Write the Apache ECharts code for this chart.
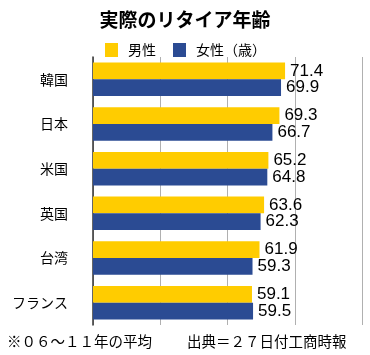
<!DOCTYPE html>
<html><head><meta charset="utf-8">
<script src="https://cdn.jsdelivr.net/npm/echarts@6/dist/echarts.min.js"></script>
<style>html,body{margin:0;padding:0;background:#fff}#c{width:370px;height:355px}</style>
</head><body><div id="c"></div>
<script>
const categories = ['韓国','日本','米国','英国','台湾','フランス'];
const male = [71.4, 69.3, 65.2, 63.6, 61.9, 59.1];
const female = [69.9, 66.7, 64.8, 62.3, 59.3, 59.5];
const seriesNames = ['男性','女性（歳）'];
const xTicks = {min:0, max:100, interval:25};

const jp = '"Noto Sans CJK JP", sans-serif';
const num = '"Liberation Sans", Arial, sans-serif';
const chart = echarts.init(document.getElementById('c'));
chart.setOption({
  animation:false,
  backgroundColor:'#fff',
  title:{text:'実際のリタイア年齢', left:'center', top:5,
    textStyle:{fontFamily:jp, fontSize:19, fontWeight:'bold', color:'#000'}},
  legend:{data:seriesNames, left:100, top:38, icon:'rect', itemWidth:13, itemHeight:14, itemGap:17,
    textStyle:{fontFamily:jp, fontSize:14, color:'#000', padding:[0,0,0,5]}},
  grid:{left:93, right:8, top:57, bottom:30},
  xAxis:{type:'value', min:xTicks.min, max:xTicks.max, interval:xTicks.interval,
    axisLabel:{show:false}, axisLine:{show:false}, axisTick:{show:false},
    splitLine:{lineStyle:{color:'#b0b0b0', width:1}}},
  yAxis:{type:'category', data:categories, inverse:true,
    axisLine:{lineStyle:{color:'#333', width:1.5}}, axisTick:{show:false},
    axisLabel:{fontFamily:jp, fontSize:14, color:'#000', margin:25}},
  series:[
    {name:seriesNames[0], type:'bar', data:male, barCategoryGap:'25%', barGap:'0%',
      itemStyle:{color:'#FFCC00'},
      label:{show:true, position:'right', distance:5, fontFamily:num, fontSize:17, color:'#000', formatter:p=>p.value.toFixed(1)}},
    {name:seriesNames[1], type:'bar', data:female, barCategoryGap:'25%', barGap:'0%',
      itemStyle:{color:'#2B4B93'},
      label:{show:true, position:'right', distance:5, fontFamily:num, fontSize:17, color:'#000', formatter:p=>p.value.toFixed(1)}}
  ],
  graphic:[
    {type:'text', left:7, top:334, style:{text:'※０６～１１年の平均', font:'14.5px "Noto Sans CJK JP"', fill:'#000'}},
    {type:'text', left:187, top:334, style:{text:'出典＝２７日付工商時報', font:'14.5px "Noto Sans CJK JP"', fill:'#000'}}
  ]
});
</script></body></html>
